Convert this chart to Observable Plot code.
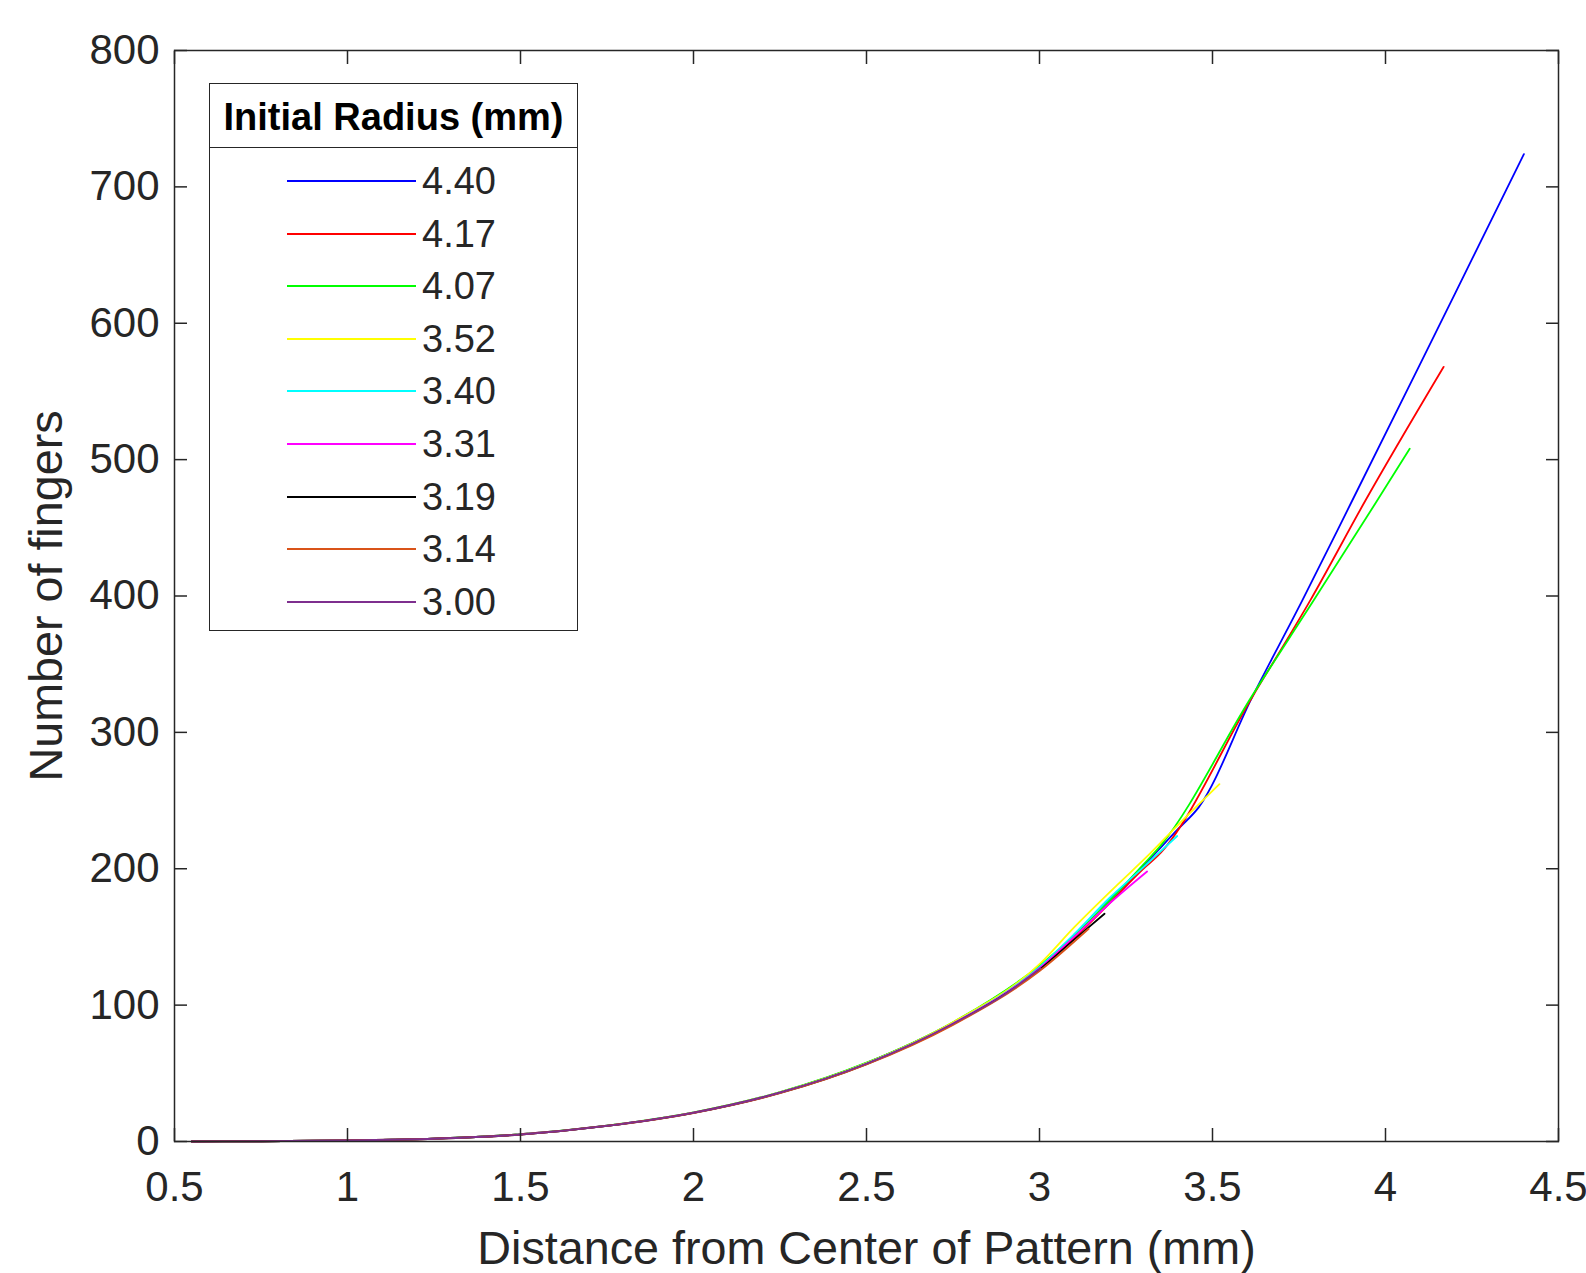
<!DOCTYPE html>
<html>
<head>
<meta charset="utf-8">
<script src="https://cdn.jsdelivr.net/npm/d3@7"></script>
<script src="https://cdn.jsdelivr.net/npm/@observablehq/plot@0.6"></script>
<style>
  html, body { margin: 0; padding: 0; background: #fff; }
  #wrap { position: relative; width: 1586px; height: 1273px; font-family: "Liberation Sans", Arial, sans-serif; }
  #legend { position: absolute; left: 209px; top: 83px; width: 367px; height: 546px; border: 1.5px solid #262626; background: #fff; box-sizing: content-box; }
  #legend .title { position: absolute; left: 0; top: 0; width: 100%; height: 63px; border-bottom: 1.5px solid #262626; font-weight: bold; font-size: 38px; color: #000; text-align: center; line-height: 66px; }
  #legend .row { position: absolute; left: 0; width: 100%; height: 50px; }
  #legend .row svg { position: absolute; left: 77px; top: 0; }
  #legend .row span { position: absolute; left: 212px; top: 0; font-size: 38px; line-height: 50px; color: #262626; }
</style>
</head>
<body>
<div id="wrap"></div>
<script>
// ---- data ----
const radii = ["4.40", "4.17", "4.07", "3.52", "3.40", "3.31", "3.19", "3.14", "3.00"];
const colors = ["#0000ff", "#ff0000", "#00ff00", "#ffff00", "#00ffff", "#ff00ff", "#000000", "#d95319", "#7e2f8e"];

const x440 = [0.55, 0.75, 1.0, 1.25, 1.5, 1.75, 2.0, 2.25, 2.5, 2.75, 3.0, 3.1, 3.2, 3.3, 3.4, 3.46, 3.615, 3.76, 3.9, 4.1, 4.25, 4.40];
const y440 = [0, 0.2, 0.8, 2.1, 5.3, 11.6, 21.2, 36, 57.5, 87, 128, 150, 176, 202, 229, 245, 326, 397, 468, 570, 647, 724];

const x417 = [0.55, 0.75, 1.0, 1.25, 1.5, 1.75, 2.0, 2.25, 2.5, 2.75, 3.0, 3.1, 3.2, 3.3, 3.34, 3.615, 3.783, 3.942, 4.168];
const y417 = [0, 0.2, 0.8, 2.1, 5.3, 11.6, 21.2, 36, 57.5, 87, 128, 149, 174, 200, 209, 326, 397, 470, 568];

const x407 = [0.55, 0.75, 1.0, 1.25, 1.5, 1.75, 2.0, 2.25, 2.5, 2.75, 3.0, 3.1, 3.2, 3.3, 3.35, 3.615, 3.793, 3.976, 4.07];
const y407 = [0, 0.2, 0.8, 2.1, 5.3, 11.6, 21.3, 36.2, 57.8, 87.5, 129, 151, 176, 203, 217, 327, 397, 470, 508];

const x352 = [0.55, 0.75, 1.0, 1.25, 1.5, 1.75, 2.0, 2.25, 2.5, 2.75, 3.0, 3.1, 3.224, 3.311, 3.4, 3.52];
const y352 = [0, 0.2, 0.8, 2.1, 5.2, 11.5, 21.2, 36, 57.5, 87.5, 130, 157, 188, 209, 232, 262];

const x340 = [0.55, 0.75, 1.0, 1.25, 1.5, 1.75, 2.0, 2.25, 2.5, 2.75, 3.0, 3.1, 3.2, 3.3, 3.398];
const y340 = [0, 0.2, 0.8, 2.1, 5.2, 11.5, 21.1, 35.8, 57.2, 86.5, 128, 152, 178, 201, 224];

const x331 = [0.55, 0.75, 1.0, 1.25, 1.5, 1.75, 2.0, 2.25, 2.5, 2.75, 3.0, 3.1, 3.2, 3.311];
const y331 = [0, 0.2, 0.8, 2.1, 5.2, 11.5, 21.1, 35.8, 57, 86.5, 127, 150, 174, 198];

const x319 = [0.55, 0.75, 1.0, 1.25, 1.5, 1.75, 2.0, 2.25, 2.5, 2.75, 3.0, 3.1, 3.188];
const y319 = [0, 0.2, 0.8, 2.0, 5.1, 11.4, 21, 35.6, 56.8, 86, 126, 148, 167];

const x314 = [0.55, 0.75, 1.0, 1.25, 1.5, 1.75, 2.0, 2.25, 2.5, 2.75, 3.0, 3.142];
const y314 = [0, 0.2, 0.8, 2.0, 5.1, 11.4, 20.9, 35.4, 56.5, 85.5, 125, 156];

const x300 = [0.55, 0.75, 1.0, 1.25, 1.5, 1.75, 2.0, 2.25, 2.5, 2.75, 2.9, 3.003];
const y300 = [0, 0.2, 0.8, 2.0, 5.1, 11.4, 21, 35.8, 57, 86.4, 108, 127];

const seriesX = [x440, x417, x407, x352, x340, x331, x319, x314, x300];
const seriesY = [y440, y417, y407, y352, y340, y331, y319, y314, y300];

const xTicks = [0.5, 1, 1.5, 2, 2.5, 3, 3.5, 4, 4.5];
const yTicks = [0, 100, 200, 300, 400, 500, 600, 700, 800];
const xLabel = "Distance from Center of Pattern (mm)";
const yLabel = "Number of fingers";
const legendTitle = "Initial Radius (mm)";

// ---- chart ----
const axisColor = "#262626";
const lineMarks = seriesX.map((xs, i) =>
  Plot.line(xs.map((x, j) => ({x, y: seriesY[i][j]})), {
    x: "x", y: "y", stroke: colors[i], strokeWidth: 1.8, curve: "monotone-x"
  })
);

const chart = Plot.plot({
  width: 1586,
  height: 1273,
  marginLeft: 174,
  marginRight: 28,
  marginTop: 50,
  marginBottom: 132,
  x: {domain: [0.5, 4.5]},
  y: {domain: [0, 800]},
  style: {fontFamily: "'Liberation Sans', Arial, sans-serif", color: axisColor, background: "#fff", overflow: "visible"},
  marks: [
    ...lineMarks,
    Plot.frame({stroke: axisColor, strokeWidth: 1.5}),
    // inward ticks on all four sides
    Plot.axisX(xTicks, {anchor: "bottom", tickSize: 13, dy: -13, fill: "none", label: null, stroke: axisColor, strokeWidth: 1.5}),
    Plot.axisX(xTicks, {anchor: "top", tickSize: 13, dy: 13, fill: "none", label: null, stroke: axisColor, strokeWidth: 1.5}),
    Plot.axisY(yTicks, {anchor: "left", tickSize: 13, dx: 13, fill: "none", label: null, stroke: axisColor, strokeWidth: 1.5}),
    Plot.axisY(yTicks, {anchor: "right", tickSize: 13, dx: -13, fill: "none", label: null, stroke: axisColor, strokeWidth: 1.5}),
    // tick labels
    Plot.axisX(xTicks, {anchor: "bottom", tickSize: 0, tickPadding: 30, fontSize: 42, label: null, fill: axisColor, tickFormat: d => String(d)}),
    Plot.axisY(yTicks, {anchor: "left", tickSize: 0, tickPadding: 15, fontSize: 42, label: null, fill: axisColor, tickFormat: d => String(d)}),
    // axis titles
    Plot.text([xLabel], {frameAnchor: "bottom", text: d => d, dy: 122, lineAnchor: "bottom", textAnchor: "middle", fontSize: 46.7, fill: axisColor}),
    Plot.text([yLabel], {frameAnchor: "left", text: d => d, dx: -113, rotate: -90, lineAnchor: "bottom", textAnchor: "middle", fontSize: 46.7, fill: axisColor})
  ]
});

const wrap = document.getElementById("wrap");
wrap.appendChild(chart);

// ---- legend (overlay inside the axes box) ----
const legend = document.createElement("div");
legend.id = "legend";
const title = document.createElement("div");
title.className = "title";
title.textContent = legendTitle;
legend.appendChild(title);
radii.forEach((r, i) => {
  const row = document.createElement("div");
  row.className = "row";
  row.style.top = (72 + i * 52.6) + "px";
  row.innerHTML = `<svg width="129" height="50"><line x1="0" x2="129" y1="25" y2="25" stroke="${colors[i]}" stroke-width="2"/></svg><span>${r}</span>`;
  legend.appendChild(row);
});
wrap.appendChild(legend);
</script>
</body>
</html>
